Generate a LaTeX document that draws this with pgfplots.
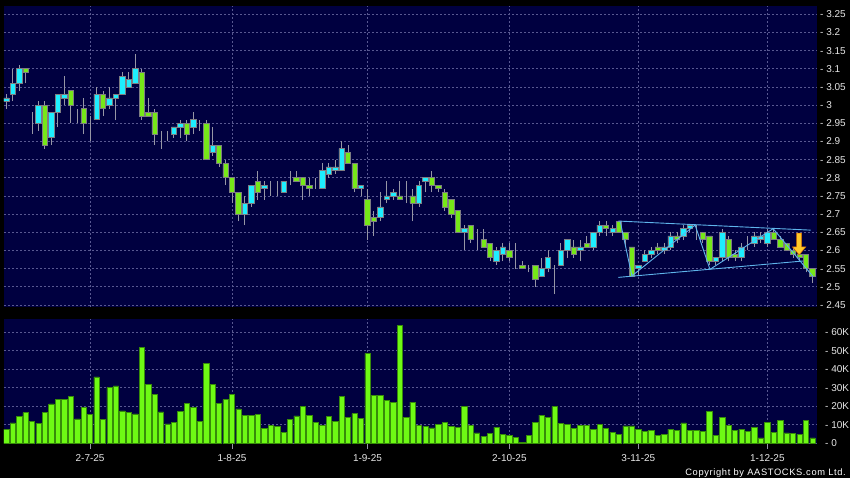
\documentclass[border=0pt]{standalone}
\usepackage{fontspec}
\setmainfont{Liberation Sans}
\usepackage{pgfplots}
\pgfplotsset{compat=1.18}
\usepackage{pgfplotstable}

\definecolor{navy}{RGB}{0,0,64}
\definecolor{gridc}{RGB}{88,88,145}
\definecolor{upc}{RGB}{30,238,255}
\definecolor{dnc}{RGB}{118,232,24}
\definecolor{edgec}{RGB}{125,125,130}
\definecolor{wickc}{RGB}{150,150,165}
\definecolor{volc}{RGB}{110,250,20}
\definecolor{voledge}{RGB}{55,140,10}
\definecolor{linec}{RGB}{95,180,235}
\definecolor{arrowc}{RGB}{255,200,40}
\definecolor{labc}{RGB}{230,230,230}

\pgfplotstableread{
i o h l c
0 3.01 3.03 2.99 3.02
1 3.03 3.10 3.01 3.06
2 3.06 3.11 3.04 3.10
3 3.10 3.10 3.06 3.09
4 2.95 2.98 2.92 2.95
5 2.95 3.01 2.93 3.00
6 3.00 3.01 2.88 2.89
7 2.91 2.98 2.89 2.98
8 2.98 3.03 2.94 3.03
9 3.02 3.08 3.00 3.03
10 3.04 3.04 2.95 3.00
11 2.98 2.99 2.95 2.98
12 2.99 3.02 2.92 2.95
13 2.95 2.97 2.90 2.95
14 2.96 3.05 2.96 3.03
15 3.03 3.04 2.97 2.99
16 3.00 3.05 2.99 3.02
17 3.02 3.03 2.96 3.03
18 3.03 3.09 3.03 3.08
19 3.05 3.09 3.05 3.07
20 3.06 3.14 3.06 3.10
21 3.09 3.10 2.96 2.97
22 2.98 3.02 2.97 2.97
23 2.98 2.99 2.89 2.92
24 2.92 2.93 2.88 2.92
25 2.92 2.93 2.90 2.92
26 2.92 2.94 2.91 2.94
27 2.94 2.96 2.91 2.95
28 2.95 2.96 2.90 2.92
29 2.94 2.98 2.92 2.96
30 2.94 2.96 2.93 2.94
31 2.95 2.96 2.85 2.85
32 2.87 2.94 2.86 2.89
33 2.89 2.89 2.83 2.84
34 2.84 2.85 2.78 2.80
35 2.80 2.80 2.73 2.76
36 2.76 2.76 2.68 2.70
37 2.70 2.75 2.67 2.73
38 2.73 2.78 2.72 2.78
39 2.79 2.82 2.74 2.76
40 2.77 2.79 2.74 2.78
41 2.78 2.79 2.75 2.78
42 2.77 2.79 2.75 2.77
43 2.76 2.79 2.76 2.79
44 2.79 2.82 2.78 2.79
45 2.80 2.82 2.79 2.79
46 2.80 2.80 2.74 2.78
47 2.78 2.80 2.75 2.77
48 2.79 2.80 2.77 2.79
49 2.77 2.84 2.77 2.82
50 2.81 2.84 2.80 2.83
51 2.82 2.85 2.81 2.83
52 2.82 2.90 2.82 2.88
53 2.87 2.89 2.84 2.84
54 2.84 2.84 2.76 2.77
55 2.77 2.78 2.75 2.78
56 2.74 2.77 2.63 2.67
57 2.69 2.71 2.64 2.68
58 2.69 2.76 2.68 2.72
59 2.74 2.79 2.73 2.75
60 2.75 2.77 2.74 2.76
61 2.75 2.79 2.74 2.74
62 2.74 2.79 2.73 2.74
63 2.75 2.77 2.68 2.73
64 2.73 2.79 2.72 2.78
65 2.79 2.80 2.76 2.80
66 2.80 2.82 2.76 2.78
67 2.78 2.78 2.76 2.77
68 2.76 2.77 2.71 2.72
69 2.74 2.74 2.69 2.70
70 2.71 2.71 2.65 2.65
71 2.65 2.67 2.60 2.66
72 2.67 2.67 2.62 2.63
73 2.64 2.66 2.60 2.64
74 2.63 2.66 2.61 2.61
75 2.62 2.62 2.57 2.58
76 2.57 2.61 2.56 2.60
77 2.59 2.62 2.57 2.61
78 2.60 2.62 2.57 2.58
79 2.58 2.62 2.55 2.58
80 2.56 2.57 2.55 2.55
81 2.55 2.56 2.54 2.55
82 2.56 2.56 2.50 2.52
83 2.53 2.58 2.53 2.55
84 2.55 2.60 2.54 2.58
85 2.56 2.56 2.48 2.56
86 2.56 2.62 2.56 2.60
87 2.60 2.63 2.58 2.63
88 2.61 2.63 2.58 2.59
89 2.60 2.63 2.57 2.61
90 2.62 2.64 2.61 2.61
91 2.61 2.65 2.60 2.65
92 2.65 2.68 2.64 2.67
93 2.67 2.68 2.64 2.66
94 2.65 2.67 2.64 2.66
95 2.68 2.68 2.65 2.65
96 2.65 2.65 2.61 2.63
97 2.61 2.61 2.53 2.53
98 2.55 2.56 2.53 2.56
99 2.57 2.60 2.57 2.59
100 2.59 2.61 2.58 2.60
101 2.61 2.62 2.59 2.60
102 2.60 2.62 2.59 2.61
103 2.61 2.65 2.60 2.64
104 2.64 2.65 2.62 2.63
105 2.64 2.67 2.63 2.66
106 2.66 2.67 2.65 2.67
107 2.66 2.67 2.63 2.66
108 2.65 2.65 2.62 2.63
109 2.64 2.64 2.56 2.57
110 2.57 2.58 2.56 2.58
111 2.58 2.66 2.57 2.65
112 2.63 2.64 2.57 2.58
113 2.59 2.60 2.57 2.58
114 2.58 2.62 2.57 2.61
115 2.62 2.64 2.60 2.62
116 2.62 2.65 2.61 2.64
117 2.63 2.65 2.62 2.64
118 2.62 2.66 2.61 2.65
119 2.65 2.66 2.63 2.63
120 2.63 2.64 2.61 2.61
121 2.62 2.62 2.60 2.60
122 2.60 2.61 2.58 2.59
123 2.59 2.60 2.57 2.58
124 2.59 2.59 2.54 2.55
125 2.55 2.55 2.51 2.53
}\ohlc

\pgfplotstableread{
i v
0 7.6
1 11.0
2 14.4
3 16.6
4 11.7
5 10.8
6 16.6
7 21.3
8 23.8
9 23.6
10 25.4
11 13.2
12 19.3
13 15.7
14 35.9
15 13.0
16 30.3
17 31.0
18 17.5
19 16.6
20 15.9
21 52.0
22 32.0
23 26.5
24 17.0
25 10.5
26 11.5
27 17.3
28 21.4
29 19.6
30 12.0
31 43.4
32 31.9
33 21.4
34 23.6
35 26.5
36 18.6
37 15.0
38 15.3
39 15.7
40 8.1
41 9.9
42 9.2
43 5.8
44 13.0
45 14.8
46 20.0
47 15.3
48 11.2
49 9.7
50 14.4
51 12.0
52 25.2
53 14.0
54 16.0
55 13.3
56 48.6
57 26.1
58 26.1
59 23.4
60 22.0
61 63.8
62 14.0
63 22.3
64 9.9
65 9.2
66 8.3
67 10.3
68 11.4
69 9.2
70 8.8
71 19.8
72 9.9
73 5.6
74 3.8
75 5.4
76 8.8
77 5.0
78 4.5
79 3.1
80 0.5
81 4.1
82 11.2
83 15.3
84 13.9
85 20.0
86 10.6
87 10.1
88 7.9
89 9.9
90 9.5
91 7.4
92 10.3
93 7.9
94 6.1
95 4.7
96 9.4
97 9.4
98 7.4
99 6.3
100 7.0
101 4.3
102 5.0
103 7.7
104 6.8
105 11.0
106 7.2
107 6.8
108 6.3
109 17.1
110 4.1
111 13.9
112 9.9
113 7.0
114 7.7
115 6.3
116 8.6
117 2.9
118 11.2
119 5.8
120 12.4
121 5.6
122 5.4
123 4.9
124 12.6
125 2.9
}\vol

\pgfplotsset{
  common/.style={
    scale only axis, width=813pt,
    xmin=-0.35, xmax=125.7,
    enlargelimits=false,
  },
  pricebox/.style={
    common, at={(4pt,171pt)}, anchor=south west,
    height=301pt, ymin=2.4445, ymax=3.2728,
  },
}

\begin{document}
\begin{tikzpicture}
\fill[black] (0pt,0pt) rectangle (850pt,478pt);

% price pane: background, grid, wicks
\begin{axis}[pricebox,
  axis background/.style={fill=navy},
  axis line style={draw=none},
  tick style={draw=none},
  xtick={13,35,56,78,98,118}, xticklabel={},
  ytick={2.45,2.5,2.55,2.6,2.65,2.7,2.75,2.8,2.85,2.9,2.95,3,3.05,3.1,3.15,3.2,3.25},
  yticklabels={- 2.45,- 2.5,- 2.55,- 2.6,- 2.65,- 2.7,- 2.75,- 2.8,- 2.85,- 2.9,- 2.95,- 3,- 3.05,- 3.1,- 3.15,- 3.2,- 3.25},
  ytick pos=right, yticklabel pos=right,
  yticklabel style={anchor=west, inner sep=0pt, xshift=3pt, text=labc, font=\fontsize{10}{12}\selectfont},
  grid=major,
  major grid style={gridc, dash pattern=on 2pt off 2pt, line width=0.7pt},
]
\addplot[draw=none, mark=none,
  error bars/.cd, y dir=plus, y explicit, error mark=none,
  error bar style={wickc, line width=1pt}]
  table[x=i, y=l, y error plus expr=\thisrow{h}-\thisrow{l}] {\ohlc};
\end{axis}

% candle bodies
\begin{axis}[pricebox, hide axis, ybar stacked, bar width=5.4pt]
\addplot[draw=none, fill=none] table[x=i, y expr={min(\thisrow{o},\thisrow{c})}] {\ohlc};
\addplot[fill=upc, draw=edgec, line width=0.7pt] table[x=i, y expr={max(\thisrow{c}-\thisrow{o},0)}] {\ohlc};
\addplot[fill=dnc, draw=edgec, line width=0.7pt] table[x=i, y expr={max(\thisrow{o}-\thisrow{c},0)}] {\ohlc};
\end{axis}

% pattern lines and arrow
\begin{axis}[pricebox, hide axis]
\addplot[linec, line width=0.9pt] coordinates {(94.9,2.681) (124.7,2.656)};
\addplot[linec, line width=0.9pt] coordinates {(94.9,2.526) (123.5,2.571)};
\addplot[linec, line width=0.9pt] coordinates {(95.2,2.679) (97.0,2.530) (106.8,2.670) (109.1,2.548) (118.9,2.660) (125.1,2.528)};
\addplot[fill=arrowc, draw=orange!85!black, line width=0.5pt] coordinates {(122.54,2.648) (123.32,2.648) (123.32,2.610) (123.97,2.610) (122.93,2.588) (121.89,2.610) (122.54,2.610)} --cycle;
\end{axis}

% volume pane
\begin{axis}[common, at={(4pt,34pt)}, anchor=south west,
  height=125pt, ymin=-0.35, ymax=67.2,
  ybar, bar width=5.3pt,
  axis background/.style={fill=navy},
  axis line style={draw=none},
  xtick={13,35,56,78,98,118},
  xticklabels={2-7-25,1-8-25,1-9-25,2-10-25,3-11-25,1-12-25},
  xtick pos=bottom, tick align=outside, major tick length=5pt,
  xtick style={draw=wickc, line width=0.8pt},
  ytick style={draw=none},
  xticklabel style={anchor=base, inner sep=0pt, yshift=-12.3pt, text=labc, font=\fontsize{10}{12}\selectfont},
  ytick={0,10,20,30,40,50,60},
  yticklabels={- 0,- 10K,- 20K,- 30K,- 40K,- 50K,- 60K},
  ytick pos=right, yticklabel pos=right,
  yticklabel style={anchor=west, inner sep=0pt, xshift=3pt, text=labc, font=\fontsize{10}{12}\selectfont},
  grid=major,
  major grid style={gridc, dash pattern=on 2pt off 2pt, line width=0.7pt},
]
\addplot[fill=volc, draw=voledge, line width=0.6pt] table[x=i, y=v] {\vol};
\end{axis}

\node[anchor=base east, inner sep=0pt, text=white, font=\fontsize{9.3}{11}\selectfont] at (846pt,2.5pt) {\addfontfeature{LetterSpace=7}Copyright by AASTOCKS.com Ltd.};
\end{tikzpicture}
\end{document}
